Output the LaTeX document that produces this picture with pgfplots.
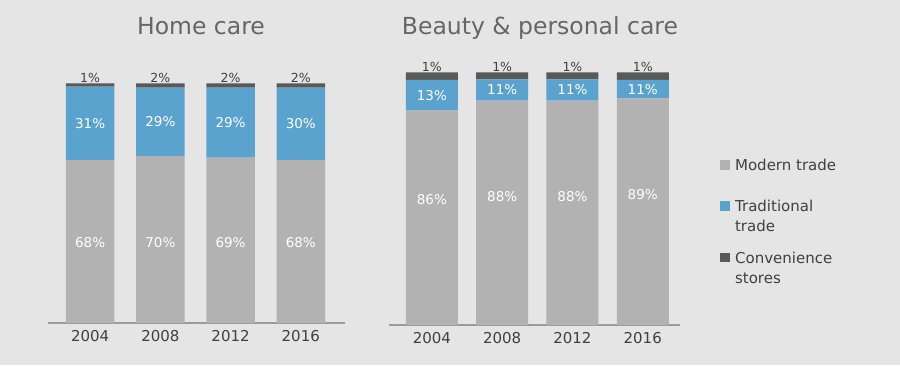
\documentclass[border=0pt]{standalone}
\usepackage{pgfplots}
\pgfplotsset{compat=1.18}
\usepackage{pgfplotstable}
\usepackage{fontspec}
\setmainfont{DejaVu Sans}
\definecolor{bg}{RGB}{229,229,229}
\definecolor{modern}{RGB}{178,178,178}
\definecolor{trad}{RGB}{91,163,207}
\definecolor{conv}{RGB}{89,89,89}
\definecolor{txt}{RGB}{64,64,64}
\definecolor{ttl}{RGB}{102,102,102}
\definecolor{axln}{RGB}{155,155,155}

% heights as drawn (m,t,c), printed labels (ml,tl,cl), modern label height (mly)
\pgfplotstableread{
x m ml mly t tl c cl
0 67.9 68 33.5 30.7 31 1.4 1
1 69.6 70 33.7 28.6 29 1.8 2
2 69.0 69 33.5 29.2 29 1.8 2
3 67.9 68 33.5 30.3 30 1.8 2
}\homecare
\pgfplotstableread{
x m ml mly t tl c cl
0 84.9 86 49.7 12.1 13 3.0 1
1 88.8 88 50.8 8.4 11 2.8 1
2 88.8 88 50.8 8.4 11 2.8 1
3 89.7 89 51.8 7.3 11 3.0 1
}\beauty

\pgfplotsset{
  /pgf/number format/assume math mode=true,
  panel/.style={
    scale only axis, ybar stacked, ymin=0, ymax=100,
    axis y line=none, axis x line=bottom,
    x axis line style={-, draw=axln, line width=1.3pt},
    xtick={0,1,2,3}, xticklabels={2004,2008,2012,2016},
    major tick length=0pt,
    xticklabel style={font=\fontsize{15}{18}\selectfont, text=txt, yshift=-4pt},
    point meta=explicit,
  },
  overlay panel/.style={
    scale only axis, hide axis, ymin=0, ymax=100, point meta=explicit,
  },
  inlbl/.style={
    only marks, mark=*, mark size=0.1pt, mark options={draw=none, fill=none},
    nodes near coords={\pgfmathprintnumber{\pgfplotspointmeta}\%},
    nodes near coords align={anchor=center},
    nodes near coords style={font=\fontsize{13.5}{16}\selectfont, text=white, anchor=center},
  },
  toplbl/.style={
    nodes near coords={\pgfmathprintnumber{\pgfplotspointmeta}\%},
    nodes near coords align={anchor=south},
    nodes near coords style={font=\fontsize{12.5}{15}\selectfont, text=txt, inner sep=0pt, anchor=south, yshift=#1},
  },
}

\begin{document}
\begin{tikzpicture}
\fill[bg] (0pt,0pt) rectangle (900pt,365pt);
\useasboundingbox (0pt,0pt) rectangle (900pt,365pt);

\node[anchor=base, font=\fontsize{23.5}{28}\selectfont, text=ttl] at (201pt,330pt) {Home care};
\node[anchor=base, font=\fontsize{23.5}{28}\selectfont, text=ttl] at (540pt,330pt) {Beauty \& personal care};

% ---- Home care
\begin{axis}[panel, at={(48pt,42pt)}, anchor=south west, width=297pt, height=239.7pt,
  xmin=-0.6, xmax=3.63, bar width=48.5pt]
\addplot[fill=modern, draw=none] table[x=x, y=m, meta=ml]{\homecare};
\addplot[fill=trad, draw=none] table[x=x, y=t, meta=tl]{\homecare};
\addplot[fill=conv, draw=none, toplbl=2.6pt] table[x=x, y=c, meta=cl]{\homecare};
\end{axis}
\begin{axis}[overlay panel, at={(48pt,42pt)}, anchor=south west, width=297pt, height=239.7pt,
  xmin=-0.6, xmax=3.63]
\addplot[inlbl] table[x=x, y=mly, meta=ml]{\homecare};
\addplot[inlbl] table[x=x, y expr=\thisrow{m}+\thisrow{t}/2, meta=tl]{\homecare};
\end{axis}

% ---- Beauty & personal care
\begin{axis}[panel, at={(389pt,40pt)}, anchor=south west, width=291pt, height=252.7pt,
  xmin=-0.61, xmax=3.53, bar width=52pt,
  legend style={at={(1.1375,0.6557)}, anchor=north west, draw=none, fill=none,
    inner sep=0pt, outer sep=0pt, font=\fontsize{15}{19.5}\selectfont, text=txt,
    row sep=20.7pt, column sep=6pt, nodes={inner sep=0pt, text depth={}}, cells={anchor=base west}},
  legend entries={Modern trade\rule[-9pt]{0pt}{9pt},
    \parbox[t]{130pt}{Traditional\\trade},
    \parbox[t]{130pt}{Convenience\\stores}},
  ]
\addlegendimage{legend image code/.code={\fill[modern] (0pt,2pt) rectangle (8.7pt,10.7pt);}}
\addlegendimage{legend image code/.code={\fill[trad] (0pt,2pt) rectangle (8.7pt,10.7pt);}}
\addlegendimage{legend image code/.code={\fill[conv] (0pt,2pt) rectangle (8.7pt,10.7pt);}}
\addplot[fill=modern, draw=none] table[x=x, y=m, meta=ml]{\beauty};
\addplot[fill=trad, draw=none] table[x=x, y=t, meta=tl]{\beauty};
\addplot[fill=conv, draw=none, toplbl=4pt] table[x=x, y=c, meta=cl]{\beauty};
\end{axis}
\begin{axis}[overlay panel, at={(389pt,40pt)}, anchor=south west, width=291pt, height=252.7pt,
  xmin=-0.61, xmax=3.53]
\addplot[inlbl] table[x=x, y=mly, meta=ml]{\beauty};
\addplot[inlbl] table[x=x, y expr=\thisrow{m}+\thisrow{t}/2, meta=tl]{\beauty};
\end{axis}
\end{tikzpicture}
\end{document}
